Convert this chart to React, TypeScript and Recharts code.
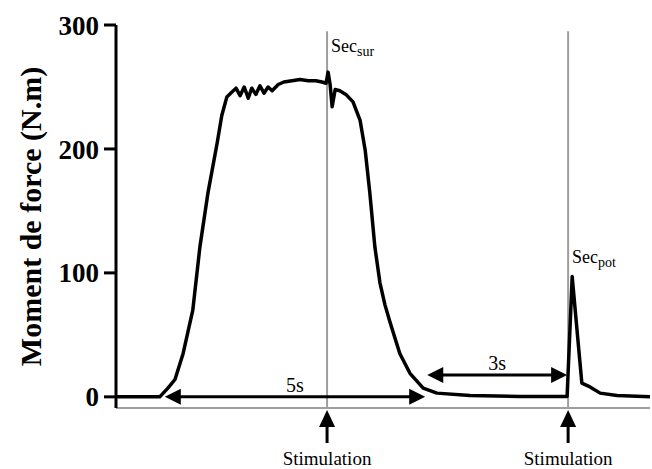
import { LineChart, Line, XAxis, YAxis, ReferenceLine, ReferenceDot } from 'recharts'

// time (s) and torque (N.m)
const time = [
  0, 0.86, 1.02, 1.16, 1.32, 1.51, 1.65, 1.81, 1.99, 2.08, 2.18, 2.28,
  2.36, 2.44, 2.52, 2.6, 2.67, 2.75, 2.83, 2.91, 2.99, 3.07, 3.19, 3.3,
  3.46, 3.62, 3.78, 3.93, 4.05, 4.13, 4.17, 4.21, 4.25, 4.31, 4.4, 4.52,
  4.66, 4.8, 4.9, 4.99, 5.09, 5.19, 5.29, 5.39, 5.58, 5.78, 6.04, 6.31, 6.96,
  7.94, 8.87, 8.97, 9.06, 9.16, 9.32, 9.52, 9.85, 10.5,
]
const torque = [
  0, 0, 7, 14, 35, 70, 121, 165, 205, 227, 242, 246,
  249, 243, 250, 241, 249, 244, 251, 245, 250, 247, 252, 254,
  255, 256, 255, 255, 254, 253, 262, 252, 234, 248, 247, 244,
  238, 223, 199, 165, 121, 92, 74, 60, 35, 19, 7, 3, 1,
  0.3, 0.3, 97, 56, 11, 8, 3, 1, 0,
]

const yTicks = [0, 100, 200, 300]
const stimulations = [4.15, 8.89]

const intervalFrom = [0.96, 6.12]
const intervalTo = [6.08, 8.87]
const intervalLevel = [0, 17.6]
const intervalText = ['5s', '3s']

const secX = [4.15, 8.89]
const secY = [278, 108]
const secSub = ['sur', 'pot']

const serif = 'Liberation Serif, Times New Roman, serif'
const textStyle = { fontFamily: serif, fill: '#000' }

const data = time.map((t, i) => ({ t, torque: torque[i] }))

function StimulusLine(props: any) {
  const { x1, y1, y2 } = props
  const bottom = Math.max(y1, y2)
  const top = Math.min(y1, y2)
  return (
    <g>
      <line x1={x1} y1={top} x2={x1} y2={bottom} stroke="#9e9e9e" strokeWidth={2} />
      <line x1={x1} y1={bottom + 16} x2={x1} y2={bottom + 35} stroke="#000" strokeWidth={3} />
      <polygon points={`${x1},${bottom + 2} ${x1 - 8},${bottom + 19} ${x1 + 8},${bottom + 19}`} fill="#000" />
      <text x={x1} y={bottom + 57} textAnchor="middle" style={{ ...textStyle, fontSize: 19 }}>
        Stimulation
      </text>
    </g>
  )
}

function IntervalArrow(props: any) {
  const { x1, x2, y1, text } = props
  const l = Math.min(x1, x2)
  const r = Math.max(x1, x2)
  return (
    <g>
      <line x1={l + 10} y1={y1} x2={r - 10} y2={y1} stroke="#000" strokeWidth={3} />
      <polygon points={`${l},${y1} ${l + 16},${y1 - 8} ${l + 16},${y1 + 8}`} fill="#000" />
      <polygon points={`${r},${y1} ${r - 16},${y1 - 8} ${r - 16},${y1 + 8}`} fill="#000" />
      <text x={(l + r) / 2} y={y1 - 5} textAnchor="middle" style={{ ...textStyle, fontSize: 20 }}>
        {text}
      </text>
    </g>
  )
}

function SecLabel(props: any) {
  const { cx, cy, sub } = props
  return (
    <text x={cx + 4} y={cy} style={{ ...textStyle, fontSize: 18 }}>
      Sec
      <tspan dy={4} style={{ fontSize: 14 }}>
        {sub}
      </tspan>
    </text>
  )
}

export default function App() {
  return (
    <div style={{ position: 'absolute', left: 0, top: 0, fontFamily: serif }}>
      <LineChart width={652} height={469} data={data} margin={{ top: 25, right: 2, left: 0, bottom: 0 }}>
        <XAxis
          type="number"
          dataKey="t"
          domain={[0, 10.5]}
          tick={false}
          tickLine={false}
          height={61}
          axisLine={{ stroke: '#9e9e9e', strokeWidth: 2 }}
        />
        <YAxis
          type="number"
          domain={[-9, 300]}
          ticks={yTicks}
          width={116}
          tickSize={12}
          tickMargin={5}
          tick={{ fill: '#000', fontSize: 27, fontWeight: 'bold', fontFamily: serif }}
          tickLine={{ stroke: '#000', strokeWidth: 3 }}
          axisLine={{ stroke: '#000', strokeWidth: 3 }}
          label={{
            value: 'Moment de force (N.m)',
            angle: -90,
            position: 'insideLeft',
            offset: 30,
            style: { textAnchor: 'middle', fontSize: 30, fontWeight: 'bold', fill: '#000', fontFamily: serif },
          }}
        />
        {stimulations.map((s, i) => (
          <ReferenceLine
            key={`stim-${i}`}
            segment={[{ x: s, y: -9 }, { x: s, y: 295 }]}
            shape={(p: any) => <StimulusLine {...p} />}
          />
        ))}
        {intervalText.map((txt, i) => (
          <ReferenceLine
            key={`int-${i}`}
            segment={[{ x: intervalFrom[i], y: intervalLevel[i] }, { x: intervalTo[i], y: intervalLevel[i] }]}
            shape={(p: any) => <IntervalArrow {...p} text={txt} />}
          />
        ))}
        {secSub.map((sub, i) => (
          <ReferenceDot
            key={`sec-${i}`}
            x={secX[i]}
            y={secY[i]}
            r={0}
            shape={(p: any) => <SecLabel {...p} sub={sub} />}
          />
        ))}
        <Line
          type="linear"
          dataKey="torque"
          stroke="#000"
          strokeWidth={3.5}
          strokeLinejoin="round"
          dot={false}
          isAnimationActive={false}
        />
      </LineChart>
    </div>
  )
}
